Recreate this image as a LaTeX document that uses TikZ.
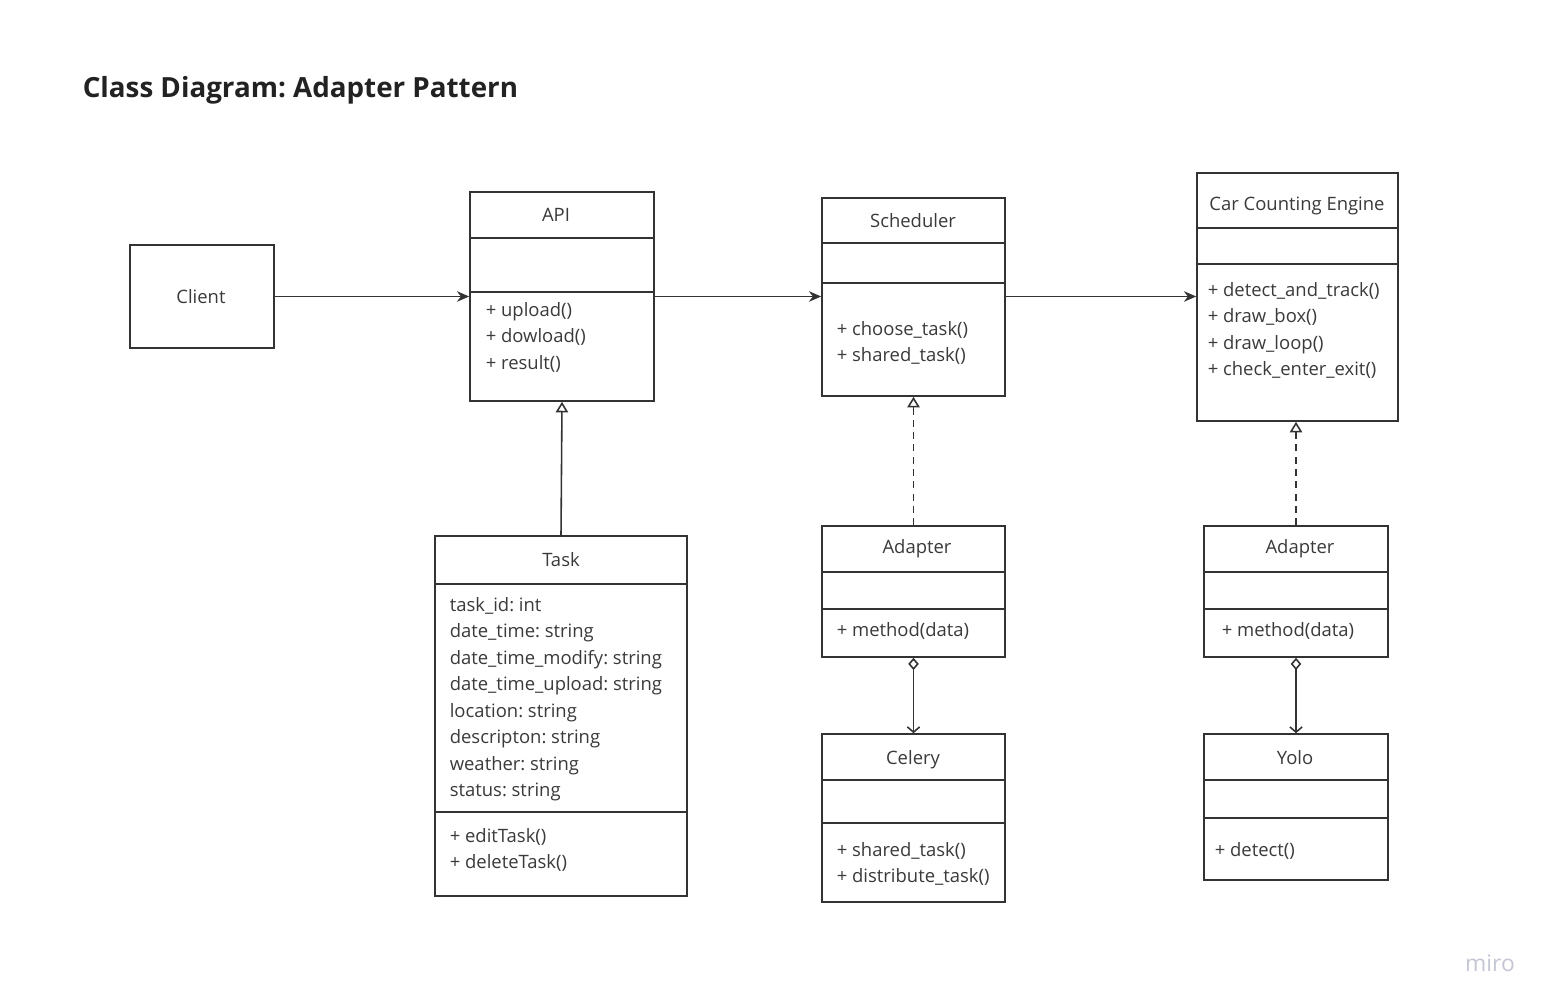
\documentclass[tikz,border=0pt]{standalone}
\usepackage{fontspec}
\setmainfont{Open Sans}
\usetikzlibrary{arrows.meta,fit}
\definecolor{linegray}{HTML}{333333}
\definecolor{textgray}{HTML}{3A3A3A}
\definecolor{titlegray}{HTML}{222222}
\definecolor{logogray}{HTML}{C4C6D4}
\frenchspacing
\begin{document}
\begin{tikzpicture}[x=0.02cm, y=-0.02cm, line width=0.9pt,
    classbox/.style={draw=linegray, inner sep=0pt},
    classname/.style={anchor=base, inner sep=0pt, text=textgray, font=\fontsize{10.5}{12}\selectfont},
    member/.style={anchor=base west, inner sep=0pt, text=textgray, font=\fontsize{10.5}{12}\selectfont},
    assoc/.style={draw=linegray, -{Stealth[length=7pt, width=6pt]}},
    inherit/.style={draw=linegray, -{Triangle[open, length=6pt, width=7pt]}},
    realize/.style={inherit, dash pattern=on 4pt off 3pt},
    aggr/.style={draw=linegray, {Diamond[open, length=7pt, width=6pt]}-{Straight Barb[length=3pt, width=7pt]}}]

    % Page size and background.
    \fill[white] (0,0) rectangle (1551,1007);

    % Title.
    \node[anchor=base west, inner sep=0pt, text=titlegray,
          font=\bfseries\fontsize{15.8}{18}\selectfont] (title) at (82,97)
          {Class Diagram: Adapter Pattern};

    % Class boxes.
    \node[classbox, fit={(130,245) (274,348)}]   (client)    {};
    \node[classbox, fit={(470,192) (654,401)}]   (api)       {};
    \node[classbox, fit={(822,198) (1005,396)}]  (scheduler) {};
    \node[classbox, fit={(1197,173) (1398,421)}] (engine)    {};
    \node[classbox, fit={(435,536) (687,896)}]   (task)      {};
    \node[classbox, fit={(822,526) (1005,657)}]  (adapterA)  {};
    \node[classbox, fit={(822,734) (1005,902)}]  (celery)    {};
    \node[classbox, fit={(1204,526) (1388,657)}] (adapterB)  {};
    \node[classbox, fit={(1204,734) (1388,880)}] (yolo)      {};

    % Compartment lines.
    \foreach \xa/\xb/\y in {470/654/238, 470/654/292, 822/1005/243, 822/1005/283,
                            1197/1398/228, 1197/1398/264, 435/687/584, 435/687/812,
                            822/1005/572, 822/1005/609, 822/1005/780, 822/1005/823,
                            1204/1388/572, 1204/1388/609, 1204/1388/780, 1204/1388/818}
        \draw[linegray] (\xa,\y) -- (\xb,\y);

    % Class names.
    \node[classname] (clientname)    at (201,303)  {Client};
    \node[classname] (apiname)       at (556,221)  {API};
    \node[classname] (schedulername) at (913,227)  {Scheduler};
    \node[classname] (enginename)    at (1297,210) {Car Counting Engine};
    \node[classname] (taskname)      at (561,566)  {Task};
    \node[classname] (adapterAname)  at (917,553)  {Adapter};
    \node[classname] (celeryname)    at (913,764)  {Celery};
    \node[classname] (adapterBname)  at (1300,553) {Adapter};
    \node[classname] (yoloname)      at (1295,764) {Yolo};

    % Attributes and methods.
    \foreach \txt [count=\i] in {+ upload(), + dowload(), + result()}
        \node[member] (api-m\i) at (485,{316+26.5*(\i-1)}) {\txt};
    \foreach \txt [count=\i] in {+ choose\_task(), + shared\_task()}
        \node[member] (scheduler-m\i) at (836,{335+26.5*(\i-1)}) {\txt};
    \foreach \txt [count=\i] in {+ detect\_and\_track(), + draw\_box(), + draw\_loop(), + check\_enter\_exit()}
        \node[member] (engine-m\i) at (1207,{296+26.5*(\i-1)}) {\txt};
    \foreach \txt [count=\i] in {task\_id: int, date\_time: string, date\_time\_modify: string,
                                 date\_time\_upload: string, location: string, descripton: string,
                                 weather: string, status: string}
        \node[member] (task-a\i) at (449,{611+26.5*(\i-1)}) {\txt};
    \foreach \txt [count=\i] in {+ editTask(), + deleteTask()}
        \node[member] (task-m\i) at (449,{842+26.5*(\i-1)}) {\txt};
    \node[member] (adapterA-m1) at (836,636) {+ method(data)};
    \foreach \txt [count=\i] in {+ shared\_task(), + distribute\_task()}
        \node[member] (celery-m\i) at (836,{856+26.5*(\i-1)}) {\txt};
    \node[member] (adapterB-m1) at (1221,636) {+ method(data)};
    \node[member] (yolo-m1) at (1214,856) {+ detect()};

    % Connectors.
    \draw[assoc]   (client.east) -- (api.west |- client.east);
    \draw[assoc]   (api.east |- client.east) -- (scheduler.west |- client.east);
    \draw[assoc]   (scheduler.east |- client.east) -- (engine.west |- client.east);
    \draw[inherit] (task.north) -- (api.south);
    \draw[realize] (adapterA.north) -- (scheduler.south);
    \draw[realize] (adapterB.north) -- (adapterB.north |- engine.south);
    \draw[aggr]    (adapterA.south) -- (celery.north);
    \draw[aggr]    (adapterB.south) -- (yolo.north);

    % Watermark.
    \node[inner sep=0pt, text=logogray, font=\fontsize{13}{15}\selectfont] (logo) at (1490,963) {miro};
\end{tikzpicture}
\end{document}
